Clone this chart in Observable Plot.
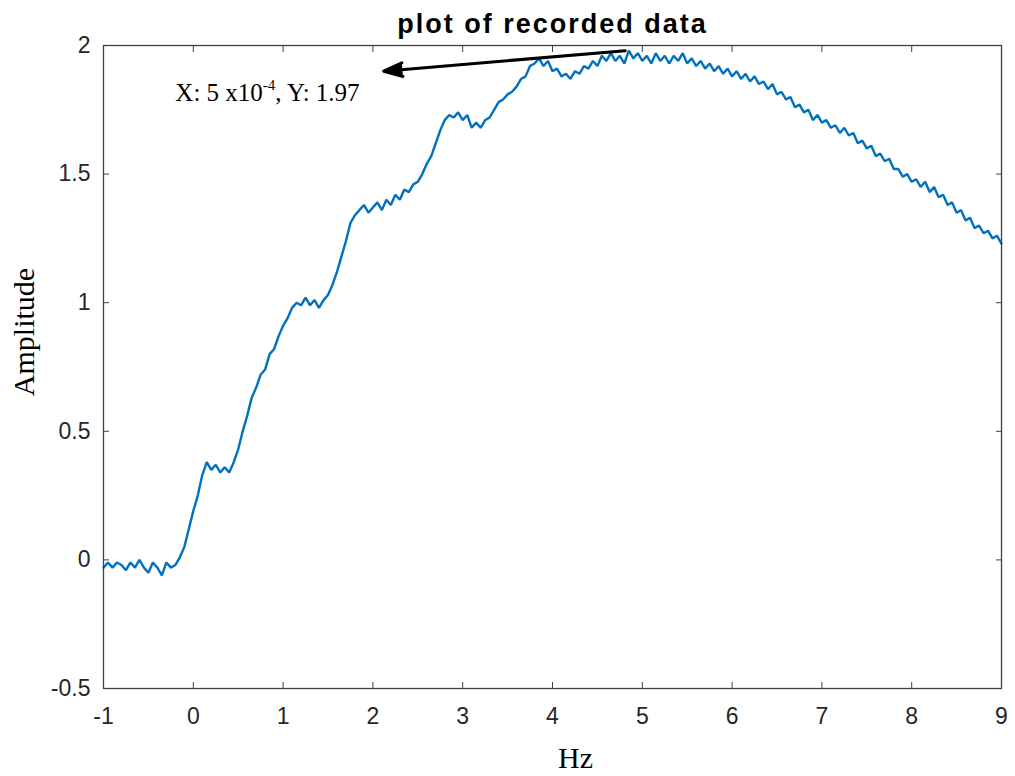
<!DOCTYPE html>
<html>
<head>
<meta charset="utf-8">
<script src="https://cdn.jsdelivr.net/npm/d3@7"></script>
<script src="https://cdn.jsdelivr.net/npm/@observablehq/plot@0.6"></script>
<style>
  html, body { margin: 0; padding: 0; background: #fff; }
</style>
</head>
<body>
<div id="chart"></div>
<script>
// ---- data ----
const title = "plot of recorded data";
const xLabel = "Hz";
const yLabel = "Amplitude";
const xTicks = [-1, 0, 1, 2, 3, 4, 5, 6, 7, 8, 9];
const yTicks = [-0.5, 0, 0.5, 1, 1.5, 2];
const xStart = -1;
const xStep = 0.05;
const amplitude = [
  -0.03,-0.01,-0.03,-0.01,-0.02,-0.04,-0.01,-0.03,0.00,-0.03,-0.05,-0.01,-0.03,-0.06,-0.01,-0.03,-0.02,0.01,0.05,0.12,
  0.19,0.25,0.33,0.38,0.35,0.37,0.34,0.36,0.34,0.38,0.43,0.50,0.56,0.63,0.67,0.72,0.74,0.80,0.82,0.87,
  0.91,0.94,0.98,1.00,0.99,1.02,0.99,1.01,0.98,1.01,1.03,1.07,1.12,1.18,1.24,1.31,1.34,1.36,1.38,1.35,
  1.37,1.39,1.36,1.40,1.38,1.42,1.40,1.44,1.43,1.46,1.47,1.50,1.54,1.57,1.62,1.67,1.71,1.73,1.72,1.74,
  1.71,1.73,1.68,1.70,1.68,1.71,1.72,1.75,1.78,1.79,1.81,1.82,1.84,1.87,1.88,1.92,1.93,1.95,1.92,1.94,
  1.90,1.91,1.88,1.89,1.87,1.90,1.89,1.92,1.91,1.94,1.92,1.96,1.94,1.97,1.94,1.96,1.93,1.98,1.95,1.97,
  1.94,1.96,1.93,1.97,1.94,1.96,1.93,1.96,1.94,1.97,1.93,1.95,1.92,1.94,1.91,1.93,1.90,1.92,1.89,1.91,
  1.88,1.90,1.87,1.89,1.86,1.88,1.85,1.86,1.83,1.85,1.81,1.82,1.79,1.80,1.76,1.77,1.74,1.75,1.71,1.73,
  1.70,1.71,1.68,1.69,1.66,1.68,1.65,1.66,1.62,1.63,1.60,1.61,1.57,1.58,1.55,1.56,1.52,1.52,1.49,1.50,
  1.47,1.48,1.45,1.47,1.43,1.45,1.41,1.42,1.38,1.39,1.35,1.36,1.32,1.33,1.29,1.30,1.27,1.28,1.25,1.26,
  1.23
];
// data-tip annotation (arrow from the curve to the label)
const annotationParts = ["X: 5 x10", "-4", ", Y: 1.97"];
const annotationText = [{x: -0.2, y: 1.786}];
const annotationArrow = [{x1: 4.81, y1: 1.98, x2: 2.12, y2: 1.90}];

const series = amplitude.map((a, i) => ({hz: +(xStart + i * xStep).toFixed(2), amp: a}));

const sans = "'Liberation Sans', Arial, Helvetica, sans-serif";
const serif = "'Liberation Serif', 'Times New Roman', Times, serif";
const axisColor = "#333333";
const tickFmt = d => String(d);

const chart = Plot.plot({
  width: 1015,
  height: 776,
  marginLeft: 103,
  marginRight: 14,
  marginTop: 45,
  marginBottom: 88,
  style: {background: "#ffffff", fontFamily: sans, color: axisColor},
  x: {domain: [-1, 9], label: null},
  y: {domain: [-0.5, 2], label: null},
  marks: [
    Plot.line(series, {x: "hz", y: "amp", stroke: "#0072BD", strokeWidth: 2.4, strokeLinejoin: "miter"}),
    Plot.frame({stroke: "#404040", strokeWidth: 1.3}),
    Plot.axisX({ticks: xTicks, anchor: "bottom", tickSize: -6, tickPadding: 25, tickFormat: tickFmt, fontSize: 23, fill: "#262626", stroke: "#404040", label: null}),
    Plot.axisX({ticks: xTicks, anchor: "top", tickSize: -6, tickFormat: () => "", stroke: "#404040", label: null}),
    Plot.axisY({ticks: yTicks, anchor: "left", tickSize: -6, tickPadding: 19, tickFormat: tickFmt, fontSize: 23, fill: "#262626", stroke: "#404040", label: null}),
    Plot.axisY({ticks: yTicks, anchor: "right", tickSize: -6, tickFormat: () => "", stroke: "#404040", label: null}),
    Plot.arrow(annotationArrow, {x1: "x1", y1: "y1", x2: "x2", y2: "y2", stroke: "#000", fill: "#000", strokeWidth: 3, headLength: 10, headAngle: 40}),
    Plot.text(annotationText, {x: "x", y: "y", text: () => annotationParts.join(""), textAnchor: "start", lineAnchor: "bottom", fontSize: 25, fontFamily: serif, fill: "#000"}),
    Plot.text([title], {frameAnchor: "top", dy: -13, lineAnchor: "bottom", fontSize: 27, fontWeight: "bold", fontFamily: sans, fill: "#000"}),
    Plot.text([xLabel], {frameAnchor: "bottom", dx: 23, dy: 79, textAnchor: "middle", lineAnchor: "bottom", fontSize: 30, fontFamily: serif, fill: "#000"}),
    Plot.text([yLabel], {frameAnchor: "left", dx: -70, dy: -35, rotate: -90, textAnchor: "middle", lineAnchor: "bottom", fontSize: 30, fontFamily: serif, fill: "#000"})
  ]
});

// post-process: superscript exponent in the data tip, letter-spacing on the title
chart.querySelectorAll("text").forEach(t => {
  if (t.textContent === annotationParts.join("")) {
    while (t.firstChild) t.removeChild(t.firstChild);
    const ns = "http://www.w3.org/2000/svg";
    t.appendChild(document.createTextNode(annotationParts[0]));
    const sup = document.createElementNS(ns, "tspan");
    sup.setAttribute("dy", "-11");
    sup.setAttribute("font-size", "15");
    sup.textContent = annotationParts[1];
    t.appendChild(sup);
    const rest = document.createElementNS(ns, "tspan");
    rest.setAttribute("dy", "11");
    rest.textContent = annotationParts[2];
    t.appendChild(rest);
  }
  if (t.textContent === title) {
    t.setAttribute("letter-spacing", "2");
  }
});

document.getElementById("chart").appendChild(chart);
</script>
</body>
</html>
